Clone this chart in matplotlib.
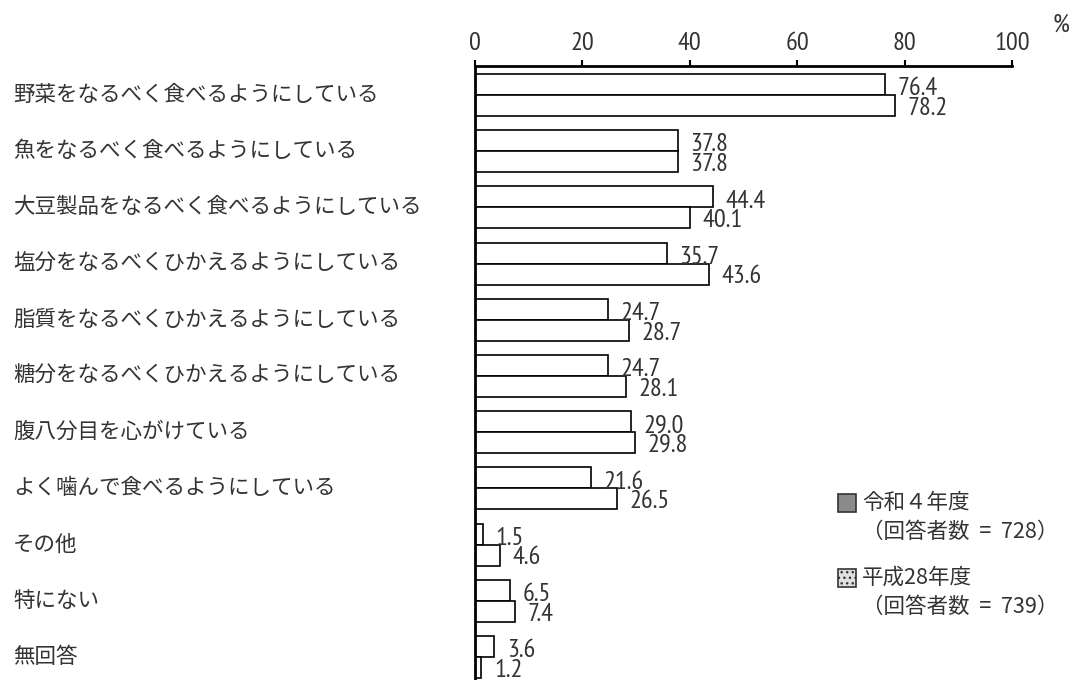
import matplotlib
matplotlib.use('Agg')
import matplotlib.pyplot as plt
from matplotlib.patches import Rectangle
import numpy as np

categories = [
    '野菜をなるべく食べるようにしている',
    '魚をなるべく食べるようにしている',
    '大豆製品をなるべく食べるようにしている',
    '塩分をなるべくひかえるようにしている',
    '脂質をなるべくひかえるようにしている',
    '糖分をなるべくひかえるようにしている',
    '腹八分目を心がけている',
    'よく噛んで食べるようにしている',
    'その他',
    '特にない',
    '無回答',
]
r4 = [76.4, 37.8, 44.4, 35.7, 24.7, 24.7, 29.0, 21.6, 1.5, 6.5, 3.6]
h28 = [78.2, 37.8, 40.1, 43.6, 28.7, 28.1, 29.8, 26.5, 4.6, 7.4, 1.2]
xticks = [0, 20, 40, 60, 80, 100]
legend_titles = ['令和４年度', '平成28年度']
legend_counts = ['（回答者数  =  728）', '（回答者数  =  739）']

# narrow font for the numbers, CJK font for the Japanese text
num_fam = ['PT Sans Narrow', 'Roboto Condensed', 'DejaVu Sans']
jp = ['Noto Sans CJK JP', 'DejaVu Sans']
txt_color = '#333333'
num_size = 19

fig = plt.figure(figsize=(10.74, 6.8), dpi=100)
ax = fig.add_axes([475 / 1074, 0, 537 / 1074, 1 - 66 / 680])

y = np.arange(len(categories))
h = 0.374
ax.barh(y - h / 2, r4, height=h, color='white', edgecolor='black', linewidth=1.2)
ax.barh(y + h / 2, h28, height=h, color='white', edgecolor='black', linewidth=1.2)

for i in range(len(categories)):
    ax.annotate(f'{r4[i]:.1f}', (r4[i], y[i] - h / 2), xytext=(9, -3),
                textcoords='offset points', va='center', ha='left',
                fontsize=num_size, color=txt_color, family=num_fam)
    ax.annotate(f'{h28[i]:.1f}', (h28[i], y[i] + h / 2), xytext=(9, -2),
                textcoords='offset points', va='center', ha='left',
                fontsize=num_size, color=txt_color, family=num_fam)
    ax.text(-462 / 537 * 100, y[i], categories[i], va='center', ha='left',
            fontsize=15.5, color=txt_color, family=jp)

ax.set_xlim(0, 100)
ax.set_ylim(10.409, -0.516)
ax.set_xticks(xticks)
ax.set_xticklabels([str(t) for t in xticks], family=num_fam, fontsize=num_size)
ax.xaxis.tick_top()
ax.tick_params(axis='x', direction='out', length=4, width=1.5, pad=4,
               labelcolor=txt_color)
ax.set_yticks([])
for s in ['right', 'bottom']:
    ax.spines[s].set_visible(False)
for s in ['left', 'top']:
    ax.spines[s].set_linewidth(2)

fig.text(1052 / 1074, 1 - 25 / 680, '%', fontsize=num_size, color=txt_color,
         va='center', ha='left', family=num_fam)

# legend
leg_y = [503, 578]
faces = ['#8a8a8a', '#e0e0e0']
hatches = [None, '...']
for k in range(2):
    fig.add_artist(Rectangle((838 / 1074, 1 - (leg_y[k] + 9) / 680), 18 / 1074, 18 / 680,
                             transform=fig.transFigure, facecolor=faces[k],
                             edgecolor='#333333', linewidth=1.2, hatch=hatches[k]))
    fig.text(862 / 1074, 1 - leg_y[k] / 680, legend_titles[k], fontsize=15.5,
             color=txt_color, family=jp, va='center', ha='left')
    fig.text(862 / 1074, 1 - (leg_y[k] + 29) / 680, legend_counts[k], fontsize=15.5,
             color=txt_color, family=jp, va='center', ha='left')

fig.savefig('out.png', dpi=100)
